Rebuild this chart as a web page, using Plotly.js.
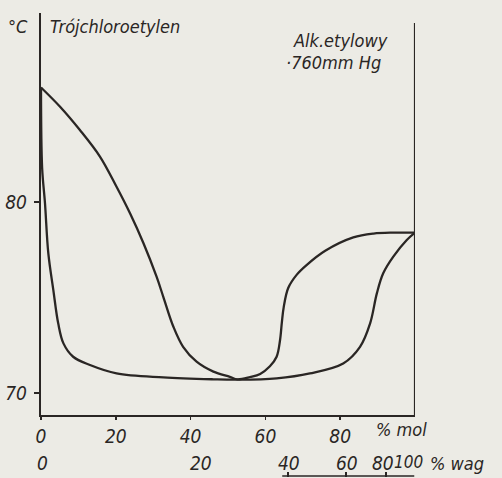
<!DOCTYPE html>
<html>
<head>
<meta charset="utf-8">
<script src="https://cdn.plot.ly/plotly-3.0.1.min.js"></script>
<style>html,body{margin:0;padding:0;background:#ecebe5;}</style>
</head>
<body>
<div id="chart" style="width:502px;height:478px;"></div>
<script>
// Upper curve (vapour / dew line), x = % mol alcohol, T in °C
const dewX = [0, 5.1, 10.4, 15.8, 20.2, 23.8, 27.4, 30.9, 32.7, 35.4, 38.0, 41.6, 46.1, 50.5, 52.5, 55.9, 58.6, 61.2, 63.0, 63.9, 64.4, 64.9, 66.1, 68.4, 71.0, 76.0, 83.5, 88.9, 94.2, 100];
const dewT = [86.0, 84.99, 83.77, 82.37, 80.8, 79.41, 77.84, 76.09, 75.04, 73.47, 72.42, 71.64, 71.12, 70.85, 70.72, 70.84, 71.0, 71.4, 71.9, 72.75, 73.7, 74.5, 75.5, 76.2, 76.7, 77.45, 78.15, 78.35, 78.4, 78.4];
// Lower curve (liquid / bubble line)
const bubX = [0, 0.3, 1.07, 1.96, 3.3, 4.6, 6.0, 8.6, 13.1, 20.2, 32.7, 46.1, 52.5, 63.0, 71.9, 80.8, 85.3, 88.0, 89.8, 91.5, 94.2, 97.8, 100];
const bubT = [86.0, 81.8, 79.93, 77.31, 75.39, 73.65, 72.6, 71.9, 71.47, 71.03, 70.82, 70.72, 70.7, 70.77, 71.03, 71.55, 72.42, 73.65, 75.22, 76.27, 77.14, 78.01, 78.4];

const molTicks = [0, 20, 40, 60, 80];
const molLabels = ['0', '20', '40', '60', '80'];
const weightTickMol = [0, 42.5, 66, 81.5, 92.3, 99.8];
const weightLabels = ['0', '20', '40', '60', '80', '100'];
const tempTicks = [70, 80];
const tempLabels = ['70', '80'];

const ink = '#2a2624';
const FONT = '"DejaVu Sans Condensed", "Liberation Sans Narrow", "DejaVu Sans", sans-serif';
const W = 502, H = 478, L = 41, R = 87, T = 13, B = 1;
const pw = W - L - R, ph = H - T - B;
const px = v => (v - L) / pw;
const py = v => (H - B - v) / ph;
const yDomBottom = py(415);

const lineStyle = {color: ink, width: 2.3, shape: 'spline', smoothing: 1.0};
const traces = [
  {x: dewX, y: dewT, mode: 'lines', line: lineStyle, hoverinfo: 'skip', cliponaxis: false, showlegend: false},
  {x: bubX, y: bubT, mode: 'lines', line: lineStyle, hoverinfo: 'skip', cliponaxis: false, showlegend: false}
];

const tfont = {family: FONT, size: 19, color: ink, style: 'italic'};
const afont = {family: FONT, size: 18, color: ink, style: 'italic'};

const annotations = [
  {text: '°C', xref: 'paper', yref: 'paper', x: px(18), y: py(26), xanchor: 'center', yanchor: 'middle', showarrow: false, font: afont},
  {text: 'Trójchloroetylen', xref: 'paper', yref: 'paper', x: px(48), y: py(26), xanchor: 'left', yanchor: 'middle', showarrow: false, font: afont},
  {text: 'Alk.etylowy', xref: 'paper', yref: 'paper', x: px(291), y: py(40), xanchor: 'left', yanchor: 'middle', showarrow: false, font: afont},
  {text: '·760mm Hg', xref: 'paper', yref: 'paper', x: px(284), y: py(63), xanchor: 'left', yanchor: 'middle', showarrow: false, font: afont},
  {text: '% mol', xref: 'paper', yref: 'paper', x: px(374), y: py(429), xanchor: 'left', yanchor: 'middle', showarrow: false, font: afont},
  {text: '% wag', xref: 'paper', yref: 'paper', x: px(428), y: py(463), xanchor: 'left', yanchor: 'middle', showarrow: false, font: afont}
];
// weight-% scale labels, placed on the mol-% axis
weightLabels.forEach((lab, i) => {
  const last = i === weightLabels.length - 1;
  const f = last ? Object.assign({}, tfont, {size: 17}) : tfont;
  annotations.push({text: lab, xref: 'x', yref: 'paper', x: weightTickMol[i], y: py(last ? 462 : 463),
    xanchor: last ? 'right' : 'center', xshift: last ? 11 : (i === 4 ? -3 : 1), yanchor: 'middle', showarrow: false, font: f});
});

const layout = {
  width: W, height: H,
  margin: {l: L, r: R, t: T, b: B, pad: 0},
  paper_bgcolor: '#ecebe5', plot_bgcolor: '#ecebe5',
  showlegend: false,
  xaxis: {range: [0, 100], anchor: 'y', showline: true, linewidth: 2.2, linecolor: ink,
    ticks: 'outside', ticklen: 3, tickwidth: 1.5, tickcolor: ink,
    tickmode: 'array', tickvals: molTicks, ticktext: molLabels, tickfont: tfont,
    showgrid: false, zeroline: false, fixedrange: true},
  xaxis3: {range: [0, 100], overlaying: 'x', anchor: 'free', position: 0,
    showline: false, ticks: 'inside', ticklen: 5, tickwidth: 1.5, tickcolor: ink,
    tickmode: 'array', tickvals: weightTickMol.slice(2), showticklabels: false,
    showgrid: false, zeroline: false},
  yaxis: {range: [68.85, 89.9], domain: [yDomBottom, 1], showline: true, linewidth: 2.2, linecolor: ink,
    ticks: 'outside', ticklen: 5, tickwidth: 1.5, tickcolor: ink,
    tickmode: 'array', tickvals: tempTicks, ticktext: tempLabels, tickfont: tfont,
    ticklabelstandoff: 3, showgrid: false, zeroline: false, fixedrange: true},
  shapes: [
    {type: 'line', xref: 'x', yref: 'paper', x0: 100, x1: 100, y0: yDomBottom, y1: py(23),
      line: {color: ink, width: 2.2}},
    {type: 'line', xref: 'x', yref: 'paper', x0: weightTickMol[2] - 1.5, x1: weightTickMol[5], y0: 0.002, y1: 0.002,
      line: {color: ink, width: 1.5}}
  ],
  annotations: annotations
};

Plotly.newPlot('chart', [
  traces[0], traces[1],
  {x: [0, 100], y: [null, null], xaxis: 'x3', yaxis: 'y', mode: 'lines', hoverinfo: 'skip', showlegend: false}
], layout, {staticPlot: true, displayModeBar: false});
</script>
</body>
</html>
